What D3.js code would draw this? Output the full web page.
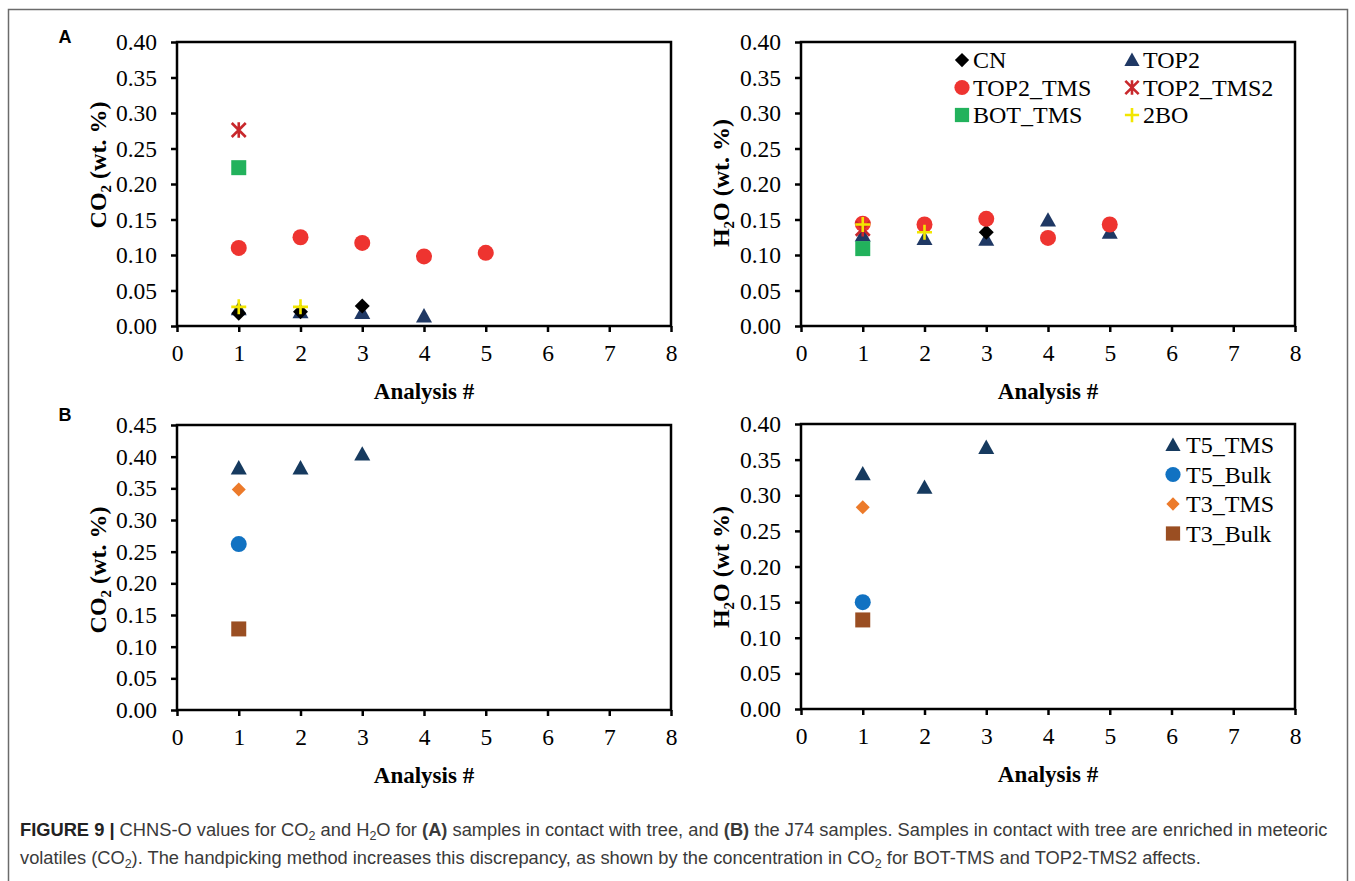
<!DOCTYPE html>
<html>
<head>
<meta charset="utf-8">
<script src="https://cdnjs.cloudflare.com/ajax/libs/d3/7.8.5/d3.min.js"></script>
<style>
  body { margin: 0; background: #fff; }
</style>
</head>
<body>
<div id="fig"></div>
<script>
var analysis = [1, 2, 3, 4, 5];
var xTicks = [0, 1, 2, 3, 4, 5, 6, 7, 8];
var yTicksA = [0, 0.05, 0.10, 0.15, 0.20, 0.25, 0.30, 0.35, 0.40];
var yTicksB = [0, 0.05, 0.10, 0.15, 0.20, 0.25, 0.30, 0.35, 0.40, 0.45];

// panel A, CO2
var co2_CN = [0.018, 0.020, 0.028];
var co2_TOP2 = [0.024, 0.020, 0.019, 0.014];
var co2_TOP2_TMS = [0.110, 0.125, 0.117, 0.098, 0.103];
var co2_TOP2_TMS2 = [0.276];
var co2_BOT_TMS = [0.223];
var co2_2BO = [0.027, 0.027];

// panel A, H2O
var h2o_CN = [null, null, 0.132];
var h2o_TOP2 = [0.128, 0.123, 0.122, 0.149, 0.132];
var h2o_TOP2_TMS = [0.144, 0.143, 0.151, 0.124, 0.143];
var h2o_TOP2_TMS2 = [0.137];
var h2o_BOT_TMS = [0.109];
var h2o_2BO = [0.143, 0.132];

// panel B, CO2
var co2_T5_TMS = [0.382, 0.382, 0.404];
var co2_T5_Bulk = [0.262];
var co2_T3_TMS = [0.348];
var co2_T3_Bulk = [0.128];

// panel B, H2O
var h2o_T5_TMS = [0.330, 0.311, 0.367];
var h2o_T5_Bulk = [0.150];
var h2o_T3_TMS = [0.283];
var h2o_T3_Bulk = [0.125];

var namesA = ["CN", "TOP2", "TOP2_TMS", "TOP2_TMS2", "BOT_TMS", "2BO"];
var namesB = ["T5_TMS", "T5_Bulk", "T3_TMS", "T3_Bulk"];

var serif = "Liberation Serif, Times New Roman, serif";
var sans = "Liberation Sans, Helvetica, Arial, sans-serif";

// marker styles
var style = {
  "CN":        { shape: "diamond",  color: "#000000", s: 7.5 },
  "TOP2":      { shape: "triangle", color: "#1f3864", s: 8 },
  "TOP2_TMS":  { shape: "circle",   color: "#ee3430", s: 8 },
  "TOP2_TMS2": { shape: "star",     color: "#c8282c", s: 7 },
  "BOT_TMS":   { shape: "square",   color: "#22b25c", s: 7.5 },
  "2BO":       { shape: "plus",     color: "#f2e600", s: 7.5 },
  "T5_TMS":    { shape: "triangle", color: "#163a5f", s: 8 },
  "T5_Bulk":   { shape: "circle",   color: "#1172c2", s: 8 },
  "T3_TMS":    { shape: "diamond",  color: "#ec7a2a", s: 7 },
  "T3_Bulk":   { shape: "square",   color: "#9a4e22", s: 7.5 }
};

function markerPath(shape, s) {
  if (shape == "circle") return d3.symbol(d3.symbolCircle, Math.PI * s * s)();
  if (shape == "square") return "M" + (-s) + "," + (-s) + "H" + s + "V" + s + "H" + (-s) + "Z";
  if (shape == "diamond") return "M0," + (-s) + "L" + s + ",0L0," + s + "L" + (-s) + ",0Z";
  if (shape == "triangle") return "M0," + (-s) + "L" + s + "," + (s * 0.8) + "L" + (-s) + "," + (s * 0.8) + "Z";
  if (shape == "plus") return "M" + (-s) + ",0H" + s + "M0," + (-s) + "V" + s;
  if (shape == "star") return "M" + (-s) + "," + (-s) + "L" + s + "," + s + "M" + (-s) + "," + s + "L" + s + "," + (-s) + "M0," + (-s * 1.1) + "V" + (s * 1.1);
}
function isLine(shape) { return shape == "plus" || shape == "star"; }

function toPoints(vals) {
  var pts = [];
  vals.forEach(function (v, i) { if (v != null) pts.push({ x: analysis[i], y: v }); });
  return pts;
}

var svg = d3.select("#fig").append("svg")
  .attr("width", 1355)
  .attr("height", 881);

// outer frame
svg.append("path")
  .attr("d", "M8.5,881V9.5H1347.5V881")
  .attr("fill", "none")
  .attr("stroke", "#6b6b6b")
  .attr("stroke-width", 1.5);

function drawMarker(g, name, px, py, sizeScale) {
  var st = style[name];
  var s = st.s * (sizeScale || 1);
  g.append("path")
    .attr("transform", "translate(" + px + "," + py + ")")
    .attr("d", markerPath(st.shape, s))
    .attr("fill", isLine(st.shape) ? "none" : st.color)
    .attr("stroke", isLine(st.shape) ? st.color : "none")
    .attr("stroke-width", isLine(st.shape) ? 2.6 : 0);
}

function panel(cfg) {
  var x = d3.scaleLinear().domain([0, 8]).range([cfg.x0, cfg.x1]);
  var y = d3.scaleLinear().domain([0, cfg.ymax]).range([cfg.yb, cfg.yt]);
  var g = svg.append("g");

  var ya = g.append("g")
    .attr("transform", "translate(" + cfg.x0 + ",0)")
    .call(d3.axisLeft(y).tickValues(cfg.yTicks).tickFormat(d3.format(".2f")).tickSize(6).tickPadding(14));
  var xa = g.append("g")
    .attr("transform", "translate(0," + cfg.yb + ")")
    .call(d3.axisBottom(x).tickValues(xTicks).tickFormat(d3.format("d")).tickSize(6).tickPadding(12));
  [ya, xa].forEach(function (a) {
    a.attr("font-family", serif).attr("font-size", 23.5);
    a.select(".domain").remove();
    a.selectAll("line").attr("stroke", "#000").attr("stroke-width", 2.5);
    a.selectAll("text").attr("fill", "#000");
  });

  g.append("rect")
    .attr("x", cfg.x0).attr("y", cfg.yt)
    .attr("width", cfg.x1 - cfg.x0).attr("height", cfg.yb - cfg.yt)
    .attr("fill", "none").attr("stroke", "#000").attr("stroke-width", 2.5);

  // x title
  g.append("text")
    .attr("x", (cfg.x0 + cfg.x1) / 2)
    .attr("y", cfg.yb + 73)
    .attr("text-anchor", "middle")
    .attr("font-family", serif)
    .attr("font-size", 23).attr("font-weight", "bold")
    .text("Analysis #");

  // y title with subscript
  var yt = g.append("text")
    .attr("transform", "translate(" + cfg.ytx + "," + cfg.ytc + ") rotate(-90)")
    .attr("text-anchor", "middle")
    .attr("font-family", serif)
    .attr("font-size", 24).attr("font-weight", "bold");
  yt.append("tspan").text(cfg.ytitle[0]);
  yt.append("tspan").text(cfg.ytitle[1]).attr("font-size", 15).attr("dy", 5);
  yt.append("tspan").text(cfg.ytitle[2]).attr("dy", -5);

  cfg.series.forEach(function (sr) {
    var sg = g.append("g");
    toPoints(sr.values).forEach(function (p) {
      drawMarker(sg, sr.name, x(p.x), y(p.y));
    });
  });

  if (cfg.legend) {
    cfg.legend.items.forEach(function (name, i) {
      var col = i % cfg.legend.cols;
      var row = Math.floor(i / cfg.legend.cols);
      var lx = cfg.legend.x + col * cfg.legend.dx;
      var ly = cfg.legend.y + row * cfg.legend.dy;
      drawMarker(g, name, lx, ly, 0.95);
      g.append("text")
        .attr("x", lx + cfg.legend.gap).attr("y", ly)
        .attr("dy", "0.35em")
        .attr("font-family", serif)
        .attr("font-size", 24)
        .text(name);
    });
  }
}

panel({
  x0: 177, x1: 671, yt: 42, yb: 326, ymax: 0.40, yTicks: yTicksA,
  ytx: 106, ytc: 165, ytitle: ["CO", "2", " (wt. %)"],
  series: [
    { name: "TOP2", values: co2_TOP2 },
    { name: "CN", values: co2_CN },
    { name: "TOP2_TMS", values: co2_TOP2_TMS },
    { name: "TOP2_TMS2", values: co2_TOP2_TMS2 },
    { name: "BOT_TMS", values: co2_BOT_TMS },
    { name: "2BO", values: co2_2BO }
  ]
});

panel({
  x0: 801, x1: 1295, yt: 42, yb: 326, ymax: 0.40, yTicks: yTicksA,
  ytx: 729, ytc: 183, ytitle: ["H", "2", "O (wt. %)"],
  series: [
    { name: "TOP2", values: h2o_TOP2 },
    { name: "CN", values: h2o_CN },
    { name: "TOP2_TMS", values: h2o_TOP2_TMS },
    { name: "TOP2_TMS2", values: h2o_TOP2_TMS2 },
    { name: "BOT_TMS", values: h2o_BOT_TMS },
    { name: "2BO", values: h2o_2BO }
  ],
  legend: { items: namesA, cols: 2, x: 962, y: 60, dx: 170, dy: 27.5, gap: 11 }
});

panel({
  x0: 177, x1: 671, yt: 425, yb: 710, ymax: 0.45, yTicks: yTicksB,
  ytx: 106, ytc: 570, ytitle: ["CO", "2", " (wt. %)"],
  series: [
    { name: "T5_TMS", values: co2_T5_TMS },
    { name: "T5_Bulk", values: co2_T5_Bulk },
    { name: "T3_TMS", values: co2_T3_TMS },
    { name: "T3_Bulk", values: co2_T3_Bulk }
  ]
});

panel({
  x0: 801, x1: 1295, yt: 424, yb: 709, ymax: 0.40, yTicks: yTicksA,
  ytx: 729, ytc: 567, ytitle: ["H", "2", "O (wt %)"],
  series: [
    { name: "T5_TMS", values: h2o_T5_TMS },
    { name: "T5_Bulk", values: h2o_T5_Bulk },
    { name: "T3_TMS", values: h2o_T3_TMS },
    { name: "T3_Bulk", values: h2o_T3_Bulk }
  ],
  legend: { items: namesB, cols: 1, x: 1173, y: 445, dx: 0, dy: 29.5, gap: 13 }
});

// panel letters
[["A", 65, 43], ["B", 65, 421]].forEach(function (p) {
  svg.append("text")
    .attr("x", p[1]).attr("y", p[2])
    .attr("text-anchor", "middle")
    .attr("font-family", sans)
    .attr("font-weight", "bold").attr("font-size", 18)
    .text(p[0]);
});

// caption
var cap = svg.append("g")
  .attr("font-family", sans)
  .attr("font-size", 18.3)
  .attr("fill", "#3a3a3a");

var l1 = cap.append("text").attr("x", 20).attr("y", 836);
l1.append("tspan").attr("font-weight", "bold").attr("fill", "#222").text("FIGURE 9 | ");
l1.append("tspan").text("CHNS-O values for CO");
l1.append("tspan").attr("font-size", 12.5).attr("dy", 4).text("2");
l1.append("tspan").attr("dy", -4).text(" and H");
l1.append("tspan").attr("font-size", 12.5).attr("dy", 4).text("2");
l1.append("tspan").attr("dy", -4).text("O for ");
l1.append("tspan").attr("font-weight", "bold").text("(A)");
l1.append("tspan").text(" samples in contact with tree, and ");
l1.append("tspan").attr("font-weight", "bold").text("(B)");
l1.append("tspan").text(" the J74 samples. Samples in contact with tree are enriched in meteoric");

var l2 = cap.append("text").attr("x", 20).attr("y", 864);
l2.append("tspan").text("volatiles (CO");
l2.append("tspan").attr("font-size", 12.5).attr("dy", 4).text("2");
l2.append("tspan").attr("dy", -4).text("). The handpicking method increases this discrepancy, as shown by the concentration in CO");
l2.append("tspan").attr("font-size", 12.5).attr("dy", 4).text("2");
l2.append("tspan").attr("dy", -4).text(" for BOT-TMS and TOP2-TMS2 affects.");
</script>
</body>
</html>
